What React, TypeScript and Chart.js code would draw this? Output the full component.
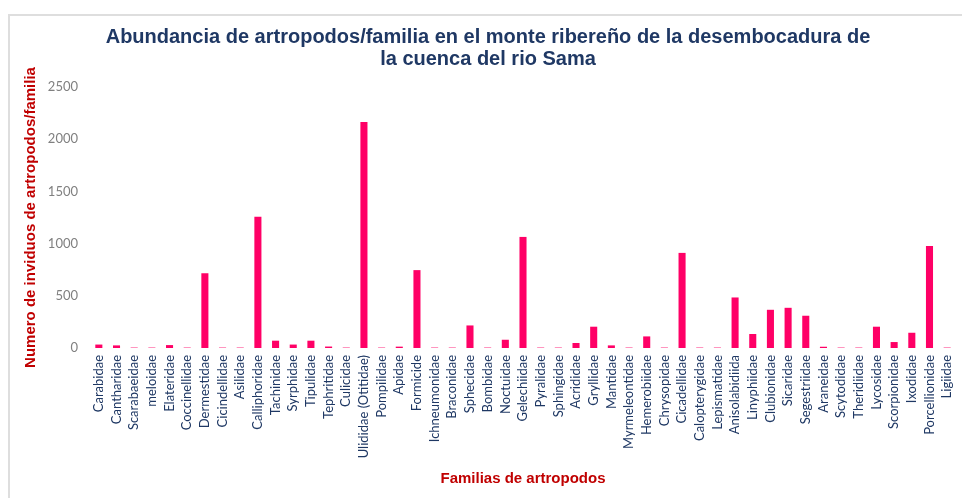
import React, { useEffect, useRef } from "react";
import { Chart, registerables } from "chart.js";

Chart.register(...registerables);

const categories: string[] = [
  "Carabidae", "Cantharidae", "Scarabaeidae", "meloidae", "Elateridae", "Coccinellidae",
  "Dermestidae", "Cicindellidae", "Asilidae", "Calliphoridae", "Tachinidae", "Syrphidae",
  "Tipulidae", "Tephritidae", "Culicidae", "Ulididae (Otitidae)", "Pompilidae", "Apidae",
  "Formicide", "Ichneumonidae", "Braconidae", "Sphecidae", "Bombidae", "Noctuidae",
  "Gelechiidae", "Pyralidae", "Sphingidae", "Acrididae", "Gryllidae", "Mantidae",
  "Myrmeleontidae", "Hemerobiidae", "Chrysopidae", "Cicadellidae", "Calopterygidae",
  "Lepismatidae", "Anisolabidiida", "Linyphiidae", "Clubionidae", "Sicaridae",
  "Segestriidae", "Araneidae", "Scytodidae", "Theridiidae", "Lycosidae", "Scorpionidae",
  "Ixodidae", "Porcellionidae", "Ligiidae",
];

const abundance: number[] = [
  33, 25, 4, 4, 28, 4,
  716, 4, 4, 1258, 70, 33,
  70, 14, 4, 2165, 4, 13,
  746, 4, 4, 216, 4, 79,
  1064, 4, 4, 48, 204, 25,
  4, 111, 4, 911, 4,
  4, 484, 134, 366, 385,
  309, 12, 4, 4, 204, 57,
  146, 978, 4,
];

const yTicks: number[] = [0, 500, 1000, 1500, 2000, 2500];

const titleLines: string[] = [
  "Abundancia de artropodos/familia en el monte ribereño de la desembocadura de",
  "la cuenca del rio Sama",
];
const xTitle = "Familias de artropodos";
const yTitle = "Numero de inviduos de artropodos/familia";

export default function App() {
  const canvasRef = useRef<HTMLCanvasElement | null>(null);

  useEffect(() => {
    if (!canvasRef.current) return;
    const chart = new Chart(canvasRef.current, {
      type: "bar",
      data: {
        labels: categories,
        datasets: [
          {
            label: "Abundancia",
            data: abundance,
            backgroundColor: "#FF0066",
            borderWidth: 0,
            barPercentage: 0.8,
            categoryPercentage: 0.5,
          },
        ],
      },
      options: {
        animation: false,
        responsive: true,
        maintainAspectRatio: false,
        layout: { padding: { left: 20, right: 6, top: 0, bottom: 0 } },
        plugins: {
          legend: { display: false },
          tooltip: { enabled: false },
          title: {
            display: true,
            text: titleLines,
            color: "#1F3864",
            font: { family: "'Liberation Sans', Arial, sans-serif", size: 20, weight: "bold", lineHeight: 1.1 },
            padding: { top: 26, bottom: 17 },
          },
        },
        scales: {
          x: {
            grid: { display: false, drawTicks: false },
            border: { display: false },
            ticks: {
              autoSkip: false,
              maxRotation: 90,
              minRotation: 90,
              padding: 7,
              color: "#1F3864",
              font: { family: "Lato, 'Noto Sans', sans-serif", size: 13 },
            },
            title: {
              display: true,
              text: xTitle,
              color: "#C00000",
              font: { family: "'Liberation Sans', Arial, sans-serif", size: 15, weight: "bold" },
              padding: { top: 4, bottom: 10 },
            },
            afterFit: (scale: any) => {
              scale.height = 150;
              scale.paddingLeft = 0;
              scale.paddingRight = 0;
            },
          },
          y: {
            min: 0,
            max: 2500,
            grid: { display: false, drawTicks: false },
            border: { display: false },
            afterBuildTicks: (scale: any) => {
              scale.ticks = yTicks.map((v) => ({ value: v }));
            },
            ticks: {
              padding: 12,
              color: "#808080",
              font: { family: "Lato, 'Noto Sans', sans-serif", size: 13 },
              callback: (value: any) => String(value),
            },
            title: {
              display: true,
              text: yTitle,
              color: "#C00000",
              font: { family: "'Liberation Sans', Arial, sans-serif", size: 15, weight: "bold" },
              padding: { top: 2, bottom: 2 },
            },
            afterFit: (scale: any) => {
              scale.width = 70;
            },
          },
        },
      },
    });
    return () => chart.destroy();
  }, []);

  return (
    <div style={{ position: "fixed", left: 0, top: 0, width: 962, height: 498, overflow: "hidden", background: "#FFFFFF" }}>
      <div
        style={{
          position: "absolute",
          left: 8,
          top: 14,
          right: -10,
          bottom: -10,
          borderLeft: "2px solid #DEDEDE",
          borderTop: "2px solid #DEDEDE",
        }}
      />
      <div style={{ position: "absolute", left: 0, top: 0, width: 962, height: 498 }}>
        <canvas ref={canvasRef} />
      </div>
    </div>
  );
}
